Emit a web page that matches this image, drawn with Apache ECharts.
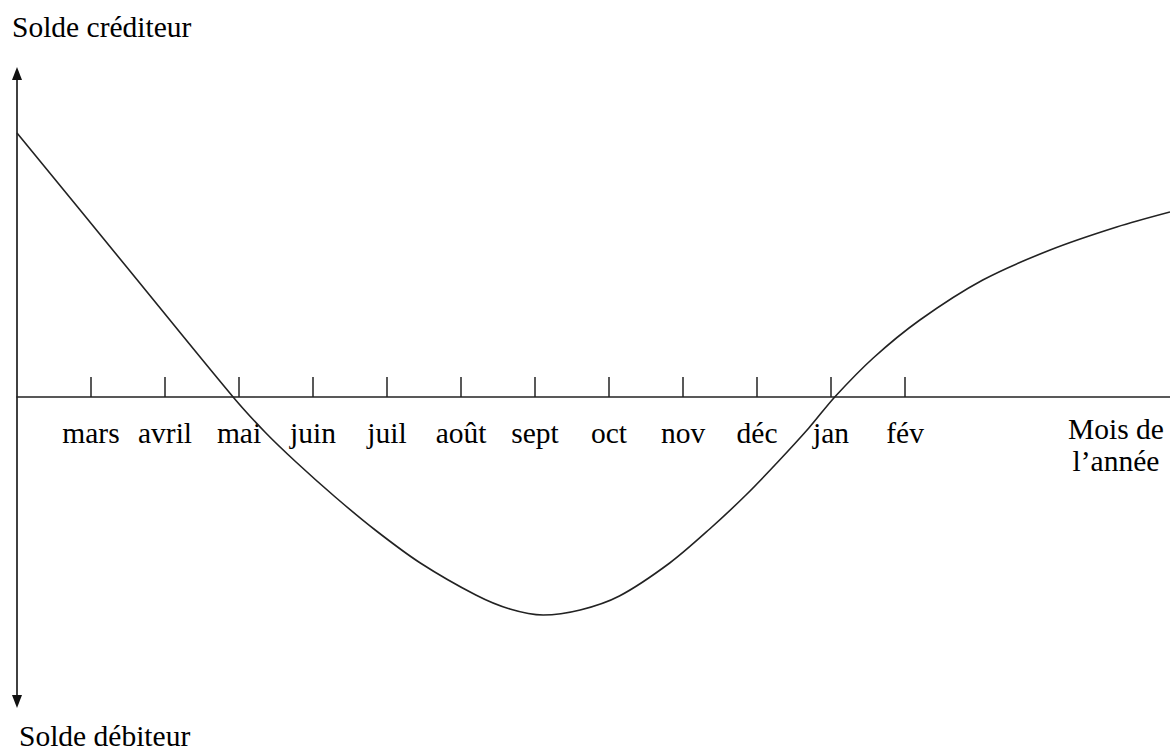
<!DOCTYPE html>
<html>
<head>
<meta charset="utf-8">
<script src="https://cdn.jsdelivr.net/npm/echarts@6/dist/echarts.min.js"></script>
<style>
html,body{margin:0;padding:0;background:#fff;}
#chart{width:1170px;height:751px;}
</style>
</head>
<body>
<div id="chart"></div>
<script>
// Month tick labels (positions 1..12 along the time axis)
const monthLabels = ['mars','avril','mai','juin','juil','août','sept','oct','nov','déc','jan','fév'];
const monthTicks = [1,2,3,4,5,6,7,8,9,10,11,12];
// Curve: x in months from origin, y = balance (arbitrary units, + = créditeur)
const curveX = [0, 1.46, 2.92, 3.35, 3.77, 4.30, 4.84, 5.45, 6.20, 6.66, 7.11, 7.61, 8.14, 8.82, 9.36, 9.85, 10.28, 10.70, 11.05, 11.57, 12.20, 13.05, 13.96, 14.86, 15.58];
const curveY = [264, 132, 0, -35, -65, -100, -133, -166, -198, -212, -218, -213, -199, -166, -132, -98, -65, -31, 0, 39, 77, 117, 147, 170, 185];
const yTopLabel = 'Solde créditeur';
const yBottomLabel = 'Solde débiteur';
const xAxisTitle = 'Mois de\nl\u2019année';

const FONT = "'Liberation Serif','Times New Roman',serif";
const FS = 29.5;
const chart = echarts.init(document.getElementById('chart'), null, {renderer: 'svg'});
const data = curveX.map((x, i) => [x, curveY[i]]);

const Y_MIN = -304.5, Y_MAX = 323.5;
const GRID_TOP = 73.5, GRID_BOTTOM = 49.5;
const plotH = 751 - GRID_TOP - GRID_BOTTOM;
// shift the x axis up from the grid bottom to the y = 0 level
const xOffset = -plotH * (0 - Y_MIN) / (Y_MAX - Y_MIN);

chart.setOption({
  animation: false,
  backgroundColor: '#fff',
  grid: {left: 17, right: 0, top: GRID_TOP, bottom: GRID_BOTTOM, containLabel: false},
  xAxis: {
    type: 'value', min: 0, max: 15.58, position: 'bottom', offset: xOffset,
    splitLine: {show: false},
    axisLine: {show: true, onZero: false, lineStyle: {color: '#222', width: 1.5}},
    axisTick: {show: true, inside: true, length: 20, customValues: monthTicks, lineStyle: {color: '#222', width: 1.5}},
    axisLabel: {
      show: true, customValues: monthTicks, margin: 21,
      color: '#000', fontFamily: FONT, fontSize: FS,
      formatter: v => monthLabels[Math.round(v) - 1] || ''
    }
  },
  yAxis: {
    type: 'value', min: Y_MIN, max: Y_MAX,
    splitLine: {show: false},
    axisLabel: {show: false},
    axisTick: {show: false},
    axisLine: {show: true, onZero: true, symbol: ['triangle', 'triangle'], symbolSize: [10, 13],
      lineStyle: {color: '#111', width: 1.6}}
  },
  series: [{
    type: 'line', data: data, showSymbol: false, smooth: 0.3,
    lineStyle: {color: '#222', width: 1.6},
    clip: false
  }],
  graphic: [
    {type: 'text', x: 12, y: 12, style: {text: yTopLabel, font: FS + 'px ' + FONT, fill: '#000'}},
    {type: 'text', x: 19, y: 721, style: {text: yBottomLabel, font: FS + 'px ' + FONT, fill: '#000'}},
    {type: 'text', x: 1116, y: 413, style: {text: xAxisTitle, font: FS + 'px ' + FONT, fill: '#000', align: 'center', lineHeight: 32}}
  ]
});
</script>
</body>
</html>
